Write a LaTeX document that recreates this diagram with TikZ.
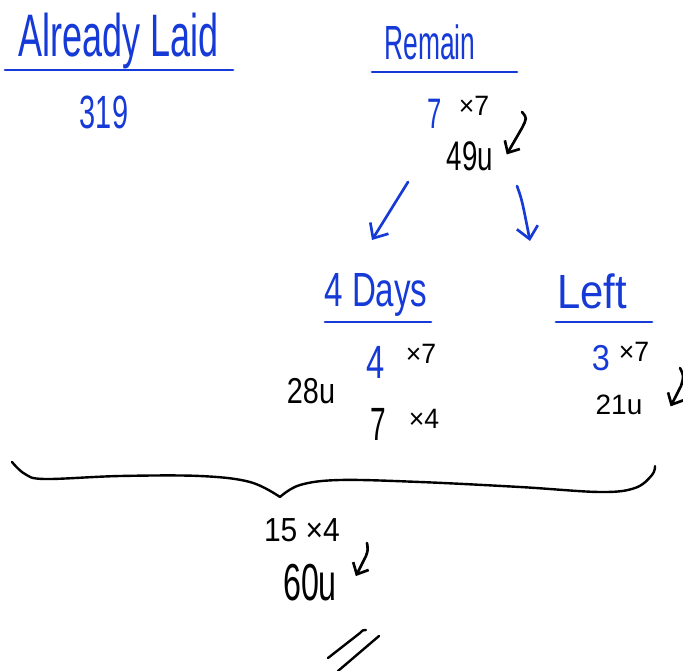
\documentclass[tikz,border=0pt]{standalone}
\usepackage{fontspec}
\setmainfont{Liberation Sans}
\usetikzlibrary{arrows.meta}
\definecolor{pen}{RGB}{22,58,215}
\newcommand{\nar}[2]{\scalebox{#1}[1]{#2}}
\tikzset{
  hw/.style={inner sep=0pt, anchor=base},
  bluetext/.style={hw, text=pen},
  blacktext/.style={hw, text=black},
  bar/.style={pen, line width=2pt, line cap=round},
  bluearrow/.style={pen, line width=2pt, line cap=round, line join=round, -{Straight Barb[length=9pt,width=16pt]}},
  blackarrow/.style={black, line width=2pt, line cap=round, line join=round, -{Straight Barb[length=7pt,width=13pt]}},
  stroke/.style={black, line width=1.8pt, line cap=round, line join=round},
  times/.style={blacktext, font=\fontsize{21}{24}\selectfont}
}
\begin{document}
\begin{tikzpicture}[x=0.75pt,y=-0.75pt]
\useasboundingbox (0,0) rectangle (683,671);
% headers
\node[bluetext, font=\fontsize{45}{50}\selectfont] (already) at (119,56) {\nar{0.6}{Already Laid}};
\draw[bar] (5,70) -- (233,70);
\node[bluetext, font=\fontsize{35}{40}\selectfont] (n319) at (104,128) {\nar{0.62}{319}};
\node[bluetext, font=\fontsize{36}{40}\selectfont] (remain) at (430,60) {\nar{0.55}{Remain}};
\draw[bar] (372,72) -- (517,72);
\node[bluetext, font=\fontsize{32}{36}\selectfont] (rem7) at (435,128) {\nar{0.6}{7}};
\node[times] (remx7) at (474,115) {\nar{0.95}{×7}};
\node[blacktext, font=\fontsize{31}{36}\selectfont] (n49u) at (470,170) {\nar{0.67}{49u}};
\coordinate (a1s) at (522,112);
\draw[blackarrow] (a1s) .. controls (527,118) .. (522,128) -- ([xshift=10pt,yshift=1pt]n49u.east);
\coordinate (b1s) at (408,182);
\coordinate (b1e) at (372,240);
\coordinate (b2s) at (517,186);
\coordinate (b2e) at (530,241);
\draw[bluearrow] (b1s) -- (b1e);
\draw[bluearrow] (b2s) .. controls (522,200) .. (b2e);
% 4 days
\node[bluetext, font=\fontsize{36}{40}\selectfont] (days) at (376,306) {\nar{0.69}{4 Days}};
\draw[bar] (325,322) -- (431,322);
\node[bluetext, font=\fontsize{35}{40}\selectfont] (d4) at (376,378) {\nar{0.7}{4}};
\node[times] (dx7) at (421,363) {\nar{0.95}{×7}};
\node[blacktext, font=\fontsize{27}{30}\selectfont] (d28) at (311,403) {\nar{0.8}{28u}};
\node[blacktext, font=\fontsize{35}{40}\selectfont] (d7) at (378,440) {\nar{0.6}{7}};
\node[times] (dx4) at (424,428) {\nar{0.95}{×4}};
% left
\node[bluetext, font=\fontsize{36}{40}\selectfont] (left) at (592,308) {\nar{0.87}{Left}};
\draw[bar] (556,322) -- (652,322);
\node[bluetext, font=\fontsize{27}{30}\selectfont] (l3) at (601,370) {\nar{0.9}{3}};
\node[times] (lx7) at (634,361) {\nar{0.95}{×7}};
\node[blacktext, font=\fontsize{21}{24}\selectfont] (l21) at (619,414) {\nar{1}{21u}};
\coordinate (a2s) at (680,368);
\draw[blackarrow] (a2s) .. controls (684,376) .. (681,386) -- ([xshift=21pt,yshift=-1.5pt]l21.east);
% brace
\draw[stroke] plot[smooth, tension=0.6] coordinates {(12,462) (25,474) (45,479) (120,476) (200,476) (250,482) (280,497)};
\draw[stroke] plot[smooth, tension=0.6] coordinates {(280,497) (300,485) (340,480) (420,482) (520,487) (600,492) (635,488) (652,475) (655,466)};
% bottom
\node[blacktext, font=\fontsize{25}{28}\selectfont] (n15) at (302,541) {\nar{0.9}{15 ×4}};
\node[blacktext, font=\fontsize{39}{44}\selectfont] (n60u) at (310,600) {\nar{0.62}{60u}};
\coordinate (a3s) at (367,543);
\draw[blackarrow] (a3s) .. controls (368,550) .. (366,556) -- ([xshift=14pt,yshift=4.5pt]n60u.east);
\draw[stroke] (328,658) -- (360,633) .. controls (363,630) .. (366,630);
\draw[stroke] (338,671) -- (379,636);
\end{tikzpicture}
\end{document}
